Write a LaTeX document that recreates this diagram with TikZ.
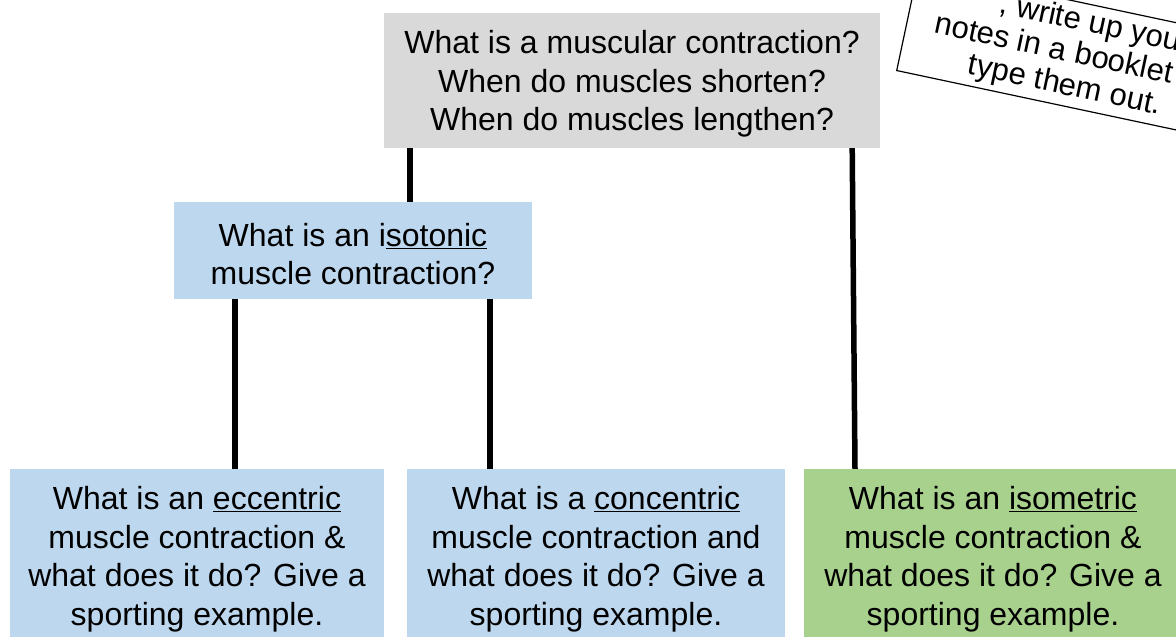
\documentclass[tikz,border=0pt]{standalone}
\usepackage{fontspec}
\setmainfont{Liberation Sans}
\usepackage{tikz}
\usetikzlibrary{positioning, calc}
\definecolor{boxgray}{RGB}{217,217,217}
\definecolor{boxblue}{RGB}{189,215,238}
\definecolor{boxgreen}{RGB}{169,209,142}
\newcommand{\topstrut}{\rule{0pt}{30pt}}

\begin{document}
\begin{tikzpicture}[x=1pt,y=-1pt,
    box/.style={draw=none, align=center, inner sep=0pt, font=\fontsize{32}{38.5}\selectfont},
    notebox/.style={draw, line width=1.2pt, fill=white, align=center, inner xsep=28pt, inner ysep=5pt, font=\fontsize{31}{33}\selectfont},
    link/.style={line width=5.5pt}]
    \useasboundingbox (0,0) rectangle (1176,637);
    \clip (0,0) rectangle (1176,637);

    % top question
    \node[box,fill=boxgray,minimum width=496pt,minimum height=135pt] (top) at (632,80.5) {\topstrut What is a muscular contraction?\\When do muscles shorten?\\When do muscles lengthen?};

    % isotonic (middle row)
    \node[box,fill=boxblue,minimum width=358pt,minimum height=97pt] (iso) at (353,250.5) {\topstrut What is an i\underline{sotonic}\\muscle contraction?};

    % bottom row
    \node[box,fill=boxblue,minimum width=374pt,minimum height=174pt] (ecc) at (197,556) {\topstrut What is an \underline{eccentric}\\muscle contraction \&\\what does it do? Give a\\sporting example.};
    \node[box,fill=boxblue,minimum width=378pt,minimum height=174pt] (con) at (596,556) {\topstrut What is a \underline{concentric}\\muscle contraction and\\what does it do? Give a\\sporting example.};
    \node[box,fill=boxgreen,minimum width=378pt,minimum height=174pt] (isom) at (993,556) {\topstrut What is an \underline{isometric}\\muscle contraction \&\\what does it do? Give a\\sporting example.};

    % note (top right, tilted)
    \node[notebox,rotate=-12,anchor=south west] (note) at (896,71) {\phantom{Or}, write up your\\notes in a booklet or\\type them out.};

    % Lines
    \draw[link] ([xshift=26pt]top.south west) -- ([xshift=26pt]top.south west |- iso.north);
    \draw[link] ([xshift=38pt]ecc.north) -- ([xshift=38pt]ecc.north |- iso.south);
    \draw[link] ([xshift=-106pt]con.north) -- ([xshift=-106pt]con.north |- iso.south);
    \draw[link] ([xshift=-28pt]top.south east) -- ([xshift=-138pt]isom.north);
\end{tikzpicture}
\end{document}
